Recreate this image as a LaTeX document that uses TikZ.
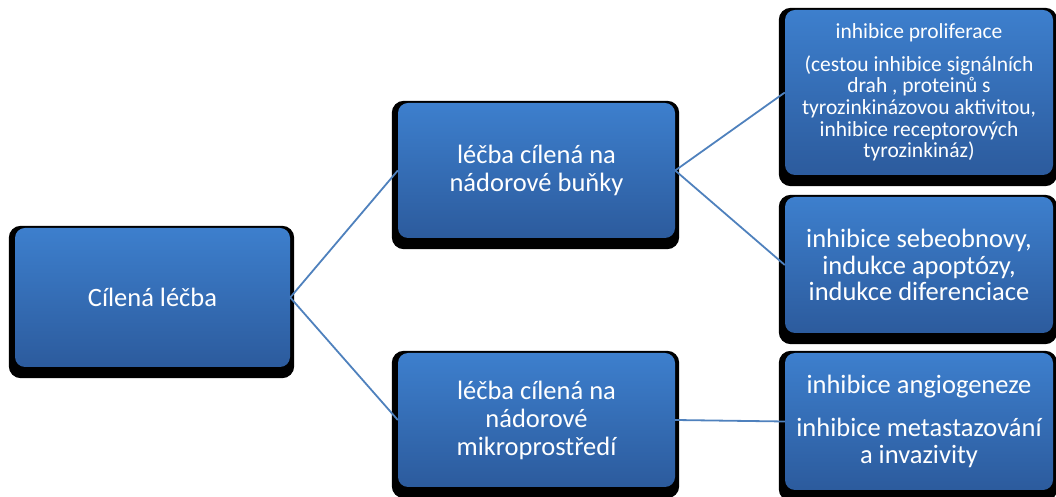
\documentclass[tikz,border=0pt]{standalone}
\usepackage{fontspec}
\setmainfont{Carlito}
\usetikzlibrary{backgrounds}

\definecolor{boxtop}{RGB}{61,127,205}
\definecolor{boxbottom}{RGB}{44,91,157}
\definecolor{linkblue}{RGB}{79,129,189}

\begin{document}
\begin{tikzpicture}[x=1pt, y=1pt,
    box/.style={rounded corners=10pt, top color=boxtop, bottom color=boxbottom,
        text=white, align=center, inner sep=0pt},
    link/.style={linkblue, line width=1.8pt}]

    % Fix the canvas to the size of the reference
    \useasboundingbox (0,0) rectangle (1056,497);

    % Draw the boxes
    \node[box, minimum width=275pt, minimum height=139pt, font=\fontsize{26.5}{28}\selectfont]
        (treat) at (152.5,199.5) {Cílená léčba};
    \node[box, minimum width=277pt, minimum height=135pt, font=\fontsize{26.5}{28}\selectfont]
        (cells) at (536.5,326.5) {léčba cílená na\\ nádorové buňky};
    \node[box, minimum width=277pt, minimum height=134pt, font=\fontsize{26.5}{28}\selectfont]
        (micro) at (536.5,77) {léčba cílená na\\ nádorové\\ mikroprostředí};
    \node[box, minimum width=268pt, minimum height=165pt, font=\fontsize{21.5}{21.7}\selectfont]
        (prolif) at (919,404.5) {inhibice proliferace\\[11pt] (cestou inhibice signálních\\
        drah , proteinů s\\ tyrozinkinázovou aktivitou,\\ inhibice receptorových\\ tyrozinkináz)};
    \node[box, minimum width=268pt, minimum height=136pt, font=\fontsize{26.5}{26.5}\selectfont]
        (renew) at (919,232) {inhibice sebeobnovy,\\ indukce apoptózy,\\ indukce diferenciace};
    \node[box, minimum width=268pt, minimum height=137pt, font=\fontsize{26.5}{27}\selectfont]
        (angio) at (919,75.5) {inhibice angiogeneze\\[16pt] inhibice metastazování\\ a invazivity};

    % Add the dark shadow behind each box
    \begin{scope}[on background layer]
        \foreach \n in {treat, cells, micro, prolif, renew, angio}
            \fill[black, rounded corners=12pt] ([shift={(-6,-11)}]\n.south west) rectangle ([shift={(4,2)}]\n.north east);
    \end{scope}

    % Draw the lines connecting the boxes
    \draw[link] (treat.east) -- (cells.west);
    \draw[link] (treat.east) -- (micro.west);
    \draw[link] (cells.east) -- (prolif.west);
    \draw[link] (cells.east) -- (renew.west);
    \draw[link] (micro.east) -- (angio.west);

\end{tikzpicture}
\end{document}
